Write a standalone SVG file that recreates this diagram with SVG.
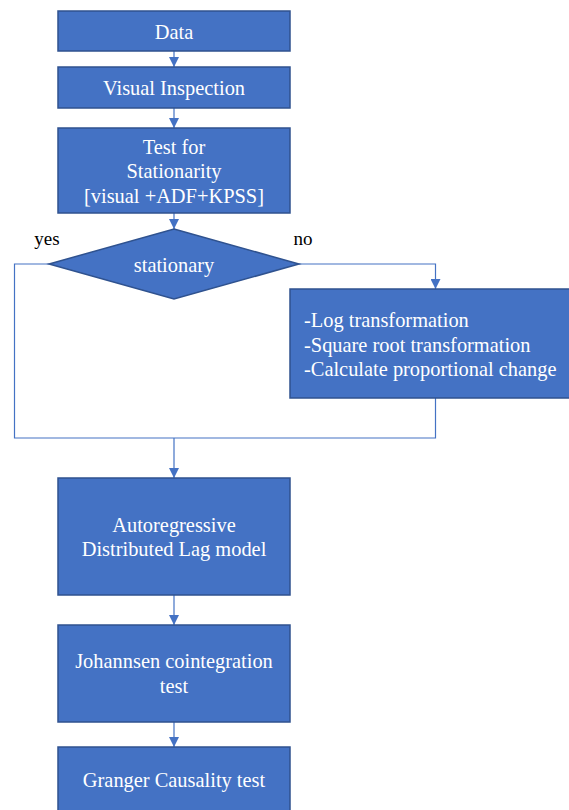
<svg xmlns="http://www.w3.org/2000/svg" width="569" height="810" viewBox="0 0 569 810">
<style>
.box{fill:#4472C4;stroke:#2F528F;stroke-width:1.5}
text{font-family:'Liberation Serif','Times New Roman','DejaVu Serif',serif}
.t{font-size:20.4px;fill:#ffffff;text-anchor:middle}
.tl{font-size:20.4px;fill:#ffffff}
.lab{font-size:19px;fill:#000000;text-anchor:middle}
.c{fill:none;stroke:#4472C4;stroke-width:1.2}
</style>
<defs>
<marker id="ah" viewBox="0 0 10 10" refX="10" refY="5" markerWidth="10" markerHeight="10" markerUnits="userSpaceOnUse" orient="auto">
<path d="M0,0 L10,5 L0,10 z" fill="#4472C4"/>
</marker>
</defs>
<g id="connectors">
<line class="c" x1="174" y1="51" x2="174" y2="67" marker-end="url(#ah)"/>
<line class="c" x1="174" y1="108" x2="174" y2="128" marker-end="url(#ah)"/>
<line class="c" x1="174" y1="213" x2="174" y2="229" marker-end="url(#ah)"/>
<polyline class="c" points="299,264 435.5,264 435.5,289" marker-end="url(#ah)"/>
<polyline class="c" points="49,264 14.5,264 14.5,438 435.5,438 435.5,398"/>
<line class="c" x1="174" y1="438" x2="174" y2="478" marker-end="url(#ah)"/>
<line class="c" x1="174" y1="595" x2="174" y2="625" marker-end="url(#ah)"/>
<line class="c" x1="174" y1="722" x2="174" y2="747" marker-end="url(#ah)"/>
<text class="lab" x="47" y="245">yes</text>
<text class="lab" x="303" y="245">no</text>
</g>
<g id="data">
<rect class="box" x="58" y="11" width="232" height="40"/>
<text class="t" x="174" y="39">Data</text>
</g>
<g id="visual">
<rect class="box" x="58" y="67" width="232" height="41"/>
<text class="t" x="174" y="95">Visual Inspection</text>
</g>
<g id="test">
<rect class="box" x="58" y="128" width="232" height="85"/>
<text class="t" x="174" y="154">Test for</text>
<text class="t" x="174" y="178">Stationarity</text>
<text class="t" x="174" y="203">[visual +ADF+KPSS]</text>
</g>
<g id="stationary">
<polygon class="box" points="174,229 299,264 174,299 49,264"/>
<text class="t" x="174" y="272">stationary</text>
</g>
<g id="transform">
<rect class="box" x="290" y="289" width="285" height="109"/>
<text class="tl" x="304" y="327">-Log transformation</text>
<text class="tl" x="304" y="352">-Square root transformation</text>
<text class="tl" x="304" y="376">-Calculate proportional change</text>
</g>
<g id="ardl">
<rect class="box" x="58" y="478" width="232" height="117"/>
<text class="t" x="174" y="532">Autoregressive</text>
<text class="t" x="174" y="556">Distributed Lag model</text>
</g>
<g id="johannsen">
<rect class="box" x="58" y="625" width="232" height="97"/>
<text class="t" x="174" y="668">Johannsen cointegration</text>
<text class="t" x="174" y="693">test</text>
</g>
<g id="granger">
<rect class="box" x="58" y="747" width="232" height="75"/>
<text class="t" x="174" y="787">Granger Causality test</text>
</g>
</svg>
